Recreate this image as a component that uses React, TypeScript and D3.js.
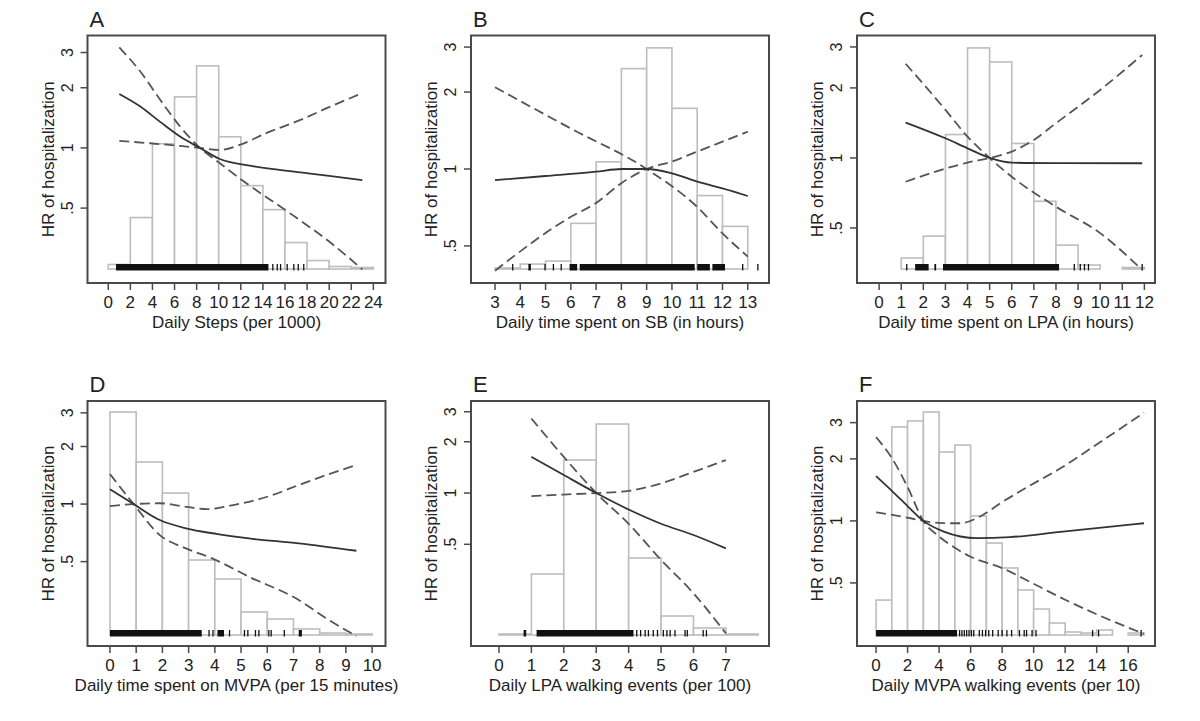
import React from 'react';
import * as d3 from 'd3';

type Pt = [number, number];
type Bin = [number, number, number]; // x0, x1, percent

// ---- A: daily steps
const stepsTicks = [0, 2, 4, 6, 8, 10, 12, 14, 16, 18, 20, 22, 24];
const stepsHist: Bin[] = [
  [0, 2, 0.52], [2, 4, 5.91], [4, 6, 14.39], [6, 8, 19.78], [8, 10, 23.34], [10, 12, 15.19],
  [12, 14, 9.58], [14, 16, 6.82], [16, 18, 3.04], [18, 20, 0.97], [20, 22, 0.29], [22, 24, 0.17],
];
const stepsHR: Pt[] = [[1, 1.86], [2.9, 1.61], [4.7, 1.35], [6.5, 1.14], [8.3, 1.0], [10.1, 0.88], [12.8, 0.815], [17.4, 0.755], [20, 0.725], [23, 0.69]];
const stepsCiSteep: Pt[] = [[1, 3.18], [2.9, 2.41], [4.7, 1.74], [6.5, 1.28], [8.3, 1.0], [10.1, 0.838], [12.5, 0.666], [16, 0.49], [20, 0.34], [23, 0.247]];
const stepsCiFlat: Pt[] = [[1, 1.084], [3.8, 1.055], [6.5, 1.023], [8.3, 1.0], [10.1, 0.977], [11.9, 1.035], [14.3, 1.185], [17.4, 1.38], [20, 1.6], [23, 1.88]];
const stepsRugDense: Pt[] = [[0.7, 14.5]];
const stepsRugSparse = [14.9, 15.3, 15.6, 16.2, 16.8, 17.2, 17.7];

// ---- B: sedentary behaviour
const sbTicks = [3, 4, 5, 6, 7, 8, 9, 10, 11, 12, 13];
const sbHist: Bin[] = [
  [3, 4, 0.11], [4, 5, 0.57], [5, 6, 0.92], [6, 7, 5.28], [7, 8, 12.39],
  [8, 9, 23.17], [9, 10, 25.57], [10, 11, 18.58], [11, 12, 8.49], [12, 13, 4.93],
];
const sbHR: Pt[] = [[3, 0.905], [5, 0.939], [7, 0.976], [8, 1.0], [9, 1.0], [10, 0.962], [11, 0.892], [12, 0.84], [13, 0.784]];
const sbCiSteep: Pt[] = [[3, 2.09], [6, 1.44], [9, 1.0], [11, 0.71], [12, 0.56], [13, 0.454]];
const sbCiFlat: Pt[] = [[3, 0.4], [6, 0.65], [7, 0.736], [8, 0.88], [9, 1.0], [10, 1.07], [11, 1.17], [13, 1.4]];
const sbRugDense: Pt[] = [[4.32, 4.42], [5.95, 6.25], [6.35, 10.9], [11.0, 11.5], [11.6, 12.1]];
const sbRugSparse = [3.7, 4.98, 5.31, 5.62, 12.8, 13.4];

// ---- C: light physical activity
const lpaTicks = [0, 1, 2, 3, 4, 5, 6, 7, 8, 9, 10, 11, 12];
const lpaHist: Bin[] = [
  [1, 2, 1.32], [2, 3, 3.96], [3, 4, 16.22], [4, 5, 26.67], [5, 6, 24.98], [6, 7, 15.14],
  [7, 8, 8.17], [8, 9, 2.88], [9, 10, 0.48], [11, 12, 0.18],
];
const lpaHR: Pt[] = [[1.2, 1.42], [3, 1.215], [4, 1.1], [5, 1.0], [6, 0.954], [8, 0.95], [11.9, 0.949]];
const lpaCiSteep: Pt[] = [[1.2, 2.54], [3, 1.61], [4, 1.235], [5, 1.0], [6, 0.83], [8, 0.617], [10, 0.475], [11.9, 0.33]];
const lpaCiFlat: Pt[] = [[1.2, 0.79], [3, 0.9], [4, 0.955], [5, 1.0], [6, 1.065], [7, 1.195], [8, 1.41], [10, 1.96], [11.9, 2.77]];
const lpaRugDense: Pt[] = [[1.63, 2.24], [2.5, 2.58], [2.89, 8.14]];
const lpaRugSparse = [1.25, 8.83, 9.1, 9.29, 9.47, 11.9];

// ---- D: moderate-to-vigorous physical activity
const mvpaTicks = [0, 1, 2, 3, 4, 5, 6, 7, 8, 9, 10];
const mvpaHist: Bin[] = [
  [0, 1, 31.1], [1, 2, 24.13], [2, 3, 19.8], [3, 4, 10.46], [4, 5, 7.81],
  [5, 6, 3.21], [6, 7, 2.23], [7, 8, 0.84], [8, 9, 0.28], [9, 10, 0.14],
];
const mvpaHR: Pt[] = [[0, 1.194], [0.9, 1.0], [1.9, 0.825], [2.9, 0.746], [4.1, 0.697], [5.3, 0.661], [7.2, 0.623], [9.4, 0.57]];
const mvpaCiSteep: Pt[] = [[0, 1.435], [0.9, 1.0], [1.9, 0.688], [2.9, 0.586], [3.9, 0.52], [5.3, 0.417], [7.2, 0.315], [8.2, 0.255], [9.4, 0.204]];
const mvpaCiFlat: Pt[] = [[0, 0.976], [0.9, 1.0], [1.9, 1.01], [2.9, 0.968], [3.7, 0.94], [4.7, 0.988], [6, 1.092], [7.2, 1.257], [8, 1.38], [9.4, 1.6]];
const mvpaRugDense: Pt[] = [[0, 3.5], [4.1, 4.35], [7.2, 7.32]];
const mvpaRugSparse = [3.78, 3.93, 4.56, 5.13, 5.26, 5.55, 5.68, 6.06, 6.15, 6.65];

// ---- E: LPA walking events
const lpaWalkTicks = [0, 1, 2, 3, 4, 5, 6, 7];
const lpaWalkHist: Bin[] = [
  [0, 1, 0.18], [1, 2, 11.05], [2, 3, 31.7], [3, 4, 38.22],
  [4, 5, 13.95], [5, 6, 3.44], [6, 7, 1.27], [7, 8, 0.18],
];
const lpaWalkHR: Pt[] = [[1, 1.63], [2, 1.275], [3, 1.0], [4, 0.8], [5, 0.66], [6, 0.567], [7, 0.473]];
const lpaWalkCiSteep: Pt[] = [[1, 2.74], [2, 1.63], [3, 1.0], [4, 0.66], [5, 0.405], [6, 0.258], [7, 0.15]];
const lpaWalkCiFlat: Pt[] = [[1, 0.96], [2, 0.98], [3, 1.0], [4, 1.03], [5, 1.14], [6, 1.33], [7, 1.56]];
const lpaWalkRugDense: Pt[] = [[0.76, 0.84], [1.16, 4.15]];
const lpaWalkRugSparse = [4.25, 4.37, 4.51, 4.61, 4.76, 4.89, 5.07, 5.18, 5.28, 5.43, 5.74, 5.81, 6.3, 6.4];

// ---- F: MVPA walking events
const mvpaWalkTicks = [0, 2, 4, 6, 8, 10, 12, 14, 16];
const mvpaWalkHist: Bin[] = [
  [0, 1, 2.45], [1, 2, 14.59], [2, 3, 15.01], [3, 4, 15.64], [4, 5, 12.83], [5, 6, 13.32],
  [6, 7, 8.35], [7, 8, 6.45], [8, 9, 4.7], [9, 10, 3.16], [10, 11, 1.82], [11, 12, 0.84],
  [12, 13, 0.21], [13, 14, 0.14], [14, 15, 0.35], [16, 17, 0.14],
];
const mvpaWalkHR: Pt[] = [[0, 1.65], [1, 1.4], [2, 1.18], [3, 1.0], [4.3, 0.887], [5.35, 0.84], [6.4, 0.824], [8.5, 0.834], [11.7, 0.885], [17, 0.974]];
const mvpaWalkCiFlat: Pt[] = [[0, 1.1], [2.2, 1.03], [3, 1.0], [4.2, 0.975], [5.35, 0.974], [6.6, 1.05], [7.9, 1.22], [9.6, 1.46], [11.7, 1.8], [14, 2.35], [17, 3.35]];
const mvpaWalkCiSteep: Pt[] = [[0, 2.55], [1, 2.02], [2, 1.46], [3, 1.0], [4, 0.84], [5, 0.74], [6, 0.67], [8, 0.59], [10, 0.495], [12, 0.414], [14, 0.352], [17, 0.283]];
const mvpaWalkRugDense: Pt[] = [[0, 5.14]];
const mvpaWalkRugSparse = [5.3, 5.45, 5.6, 5.75, 5.9, 6.05, 6.2, 6.55, 6.75, 6.95, 7.15, 7.4, 7.75, 8.0, 8.3, 8.6, 9.1, 9.4, 9.55, 9.9, 10.15, 13.74, 14.12, 16.82];

const yTicks = [0.5, 1, 2, 3];
const yTickLabels = ['.5', '1', '2', '3'];
const yTitle = 'HR of hospitalization';

const panels = [
  { letter: 'A', title: 'Daily Steps (per 1000)', ticks: stepsTicks, xDomain: [-1.88, 25.1], yDomain: [0.211, 3.65], hist: stepsHist, hMax: 26.83, hr: stepsHR, ciA: stepsCiSteep, ciB: stepsCiFlat, rugDense: stepsRugDense, rugSparse: stepsRugSparse },
  { letter: 'B', title: 'Daily time spent on SB (in hours)', ticks: sbTicks, xDomain: [2.05, 13.84], yDomain: [0.358, 3.33], hist: sbHist, hMax: 27.0, hr: sbHR, ciA: sbCiSteep, ciB: sbCiFlat, rugDense: sbRugDense, rugSparse: sbRugSparse },
  { letter: 'C', title: 'Daily time spent on LPA (in hours)', ticks: lpaTicks, xDomain: [-1.0, 12.48], yDomain: [0.29, 3.36], hist: lpaHist, hMax: 28.17, hr: lpaHR, ciA: lpaCiSteep, ciB: lpaCiFlat, rugDense: lpaRugDense, rugSparse: lpaRugSparse },
  { letter: 'D', title: 'Daily time spent on MVPA (per 15 minutes)', ticks: mvpaTicks, xDomain: [-0.857, 10.51], yDomain: [0.181, 3.46], hist: mvpaHist, hMax: 32.64, hr: mvpaHR, ciA: mvpaCiSteep, ciB: mvpaCiFlat, rugDense: mvpaRugDense, rugSparse: mvpaRugSparse },
  { letter: 'E', title: 'Daily LPA walking events (per 100)', ticks: lpaWalkTicks, xDomain: [-0.863, 8.33], yDomain: [0.1265, 3.47], hist: lpaWalkHist, hMax: 42.39, hr: lpaWalkHR, ciA: lpaWalkCiSteep, ciB: lpaWalkCiFlat, rugDense: lpaWalkRugDense, rugSparse: lpaWalkRugSparse },
  { letter: 'F', title: 'Daily MVPA walking events (per 10)', ticks: mvpaWalkTicks, xDomain: [-1.21, 17.7], yDomain: [0.247, 3.82], hist: mvpaWalkHist, hMax: 16.41, hr: mvpaWalkHR, ciA: mvpaWalkCiSteep, ciB: mvpaWalkCiFlat, rugDense: mvpaWalkRugDense, rugSparse: mvpaWalkRugSparse },
];

// layout
const colLeft = [87.5, 471, 857];
const frameW = 298;
const rowTop = [35.5, 401];
const rowBottom = [283, 646];
const basePad = [14, 11];

const font = '"Liberation Sans", Arial, Helvetica, sans-serif';
const frameColor = '#4a4a4a';
const textColor = '#222';

function Panel({ p, i }: { p: any; i: number }) {
  const col = i % 3;
  const row = Math.floor(i / 3);
  const left = colLeft[col];
  const right = left + frameW;
  const top = rowTop[row];
  const bottom = rowBottom[row];
  const base = bottom - basePad[row];

  const x = d3.scaleLinear().domain(p.xDomain).range([left, right]);
  const y = d3.scaleLog().domain(p.yDomain).range([bottom, top]);
  const h = d3.scaleLinear().domain([0, p.hMax]).range([base, top]);

  const line = d3.line<Pt>()
    .x(d => x(d[0]))
    .y(d => y(d[1]))
    .curve(d3.curveMonotoneX);

  const clipId = 'clip-' + p.letter;

  return (
    <g>
      <defs>
        <clipPath id={clipId}>
          <rect x={left} y={top} width={frameW} height={bottom - top} />
        </clipPath>
      </defs>

      <g clipPath={`url(#${clipId})`}>
        {p.hist.map((b: Bin, k: number) => (
          <rect key={k} x={x(b[0])} y={h(b[2])} width={x(b[1]) - x(b[0])} height={base - h(b[2])}
            fill="white" stroke="#bdbdbd" strokeWidth={1.6} />
        ))}

        {p.rugDense.map((r: Pt, k: number) => (
          <rect key={'d' + k} x={x(r[0])} y={base - 5} width={x(r[1]) - x(r[0])} height={6.5} fill="#111" />
        ))}
        {p.rugSparse.map((v: number, k: number) => (
          <line key={'s' + k} x1={x(v)} x2={x(v)} y1={base - 5} y2={base + 1.5} stroke="#111" strokeWidth={1.3} />
        ))}

        <path d={line(p.ciA) || ''} fill="none" stroke="#555" strokeWidth={1.8} strokeDasharray="10,5" />
        <path d={line(p.ciB) || ''} fill="none" stroke="#555" strokeWidth={1.8} strokeDasharray="10,5" />
        <path d={line(p.hr) || ''} fill="none" stroke="#333" strokeWidth={1.8} />
      </g>

      <rect x={left} y={top} width={frameW} height={bottom - top} fill="none" stroke={frameColor} strokeWidth={2} />

      {/* x axis */}
      {p.ticks.map((t: number) => (
        <g key={'x' + t}>
          <line x1={x(t)} x2={x(t)} y1={bottom} y2={bottom + 7} stroke={frameColor} strokeWidth={1.5} />
          <text x={x(t)} y={bottom + 25} textAnchor="middle" fontSize={17} fontFamily={font} fill={textColor}>{t}</text>
        </g>
      ))}
      <text x={(left + right) / 2} y={bottom + 45} textAnchor="middle" fontSize={17} fontFamily={font} fill={textColor}>{p.title}</text>

      {/* y axis */}
      {yTicks.map((t, k) => (
        <g key={'y' + t}>
          <line x1={left - 7} x2={left} y1={y(t)} y2={y(t)} stroke={frameColor} strokeWidth={1.5} />
          <text transform={`translate(${left - 15},${y(t)}) rotate(-90)`} textAnchor="middle" fontSize={16} fontFamily={font} fill={textColor}>{yTickLabels[k]}</text>
        </g>
      ))}
      <text transform={`translate(${left - 34},${(top + bottom) / 2}) rotate(-90)`} textAnchor="middle" fontSize={17} fontFamily={font} fill={textColor}>{yTitle}</text>

      <text x={left + 2} y={top - 9} fontSize={22} fontFamily={font} fill={textColor}>{p.letter}</text>
    </g>
  );
}

export default function App() {
  return (
    <svg width={1200} height={721} style={{ position: 'absolute', left: 0, top: 0, background: 'white' }}>
      <rect x={0} y={0} width={1200} height={721} fill="white" />
      {panels.map((p, i) => <Panel key={p.letter} p={p} i={i} />)}
    </svg>
  );
}
